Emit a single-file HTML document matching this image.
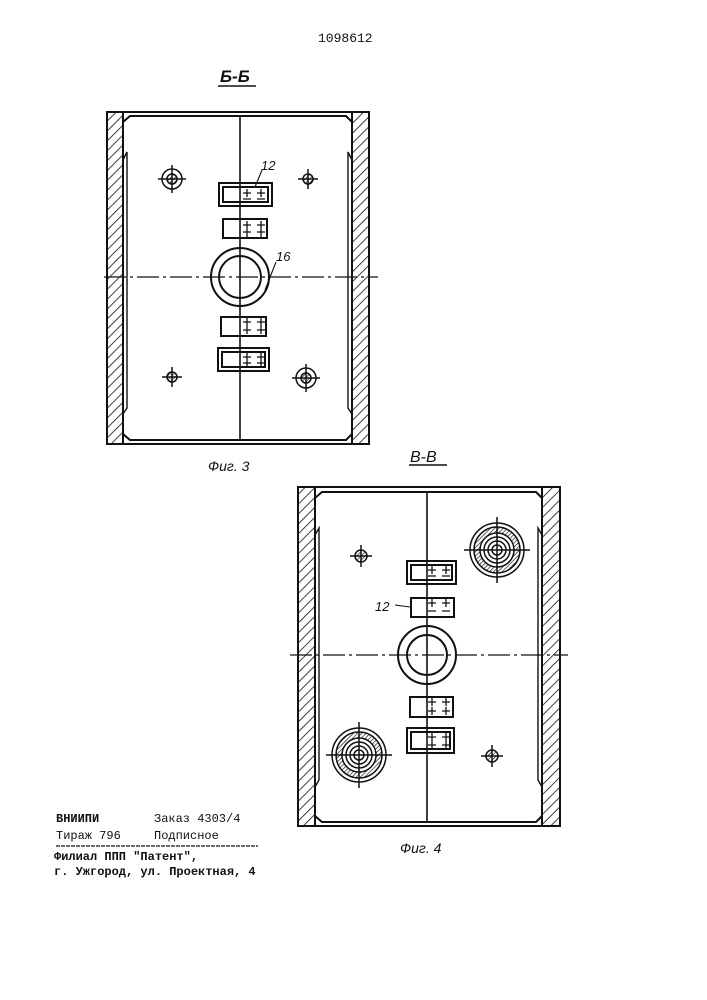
<!DOCTYPE html>
<html><head><meta charset="utf-8"><style>
body{margin:0;background:#fff;}
svg{display:block}
text{font-family:"Liberation Mono",monospace;fill:#111}
.it{font-family:"Liberation Sans",sans-serif;font-style:italic}
</style></head><body>
<svg width="707" height="1000" viewBox="0 0 707 1000" xmlns="http://www.w3.org/2000/svg">
<defs>
<pattern id="h" width="7" height="7" patternUnits="userSpaceOnUse" patternTransform="rotate(45)">
<rect width="7" height="7" fill="#fff"/><line x1="0" y1="0" x2="0" y2="7" stroke="#111" stroke-width="1.6"/></pattern>
<pattern id="h2" width="3" height="3" patternUnits="userSpaceOnUse" patternTransform="rotate(45)">
<line x1="0" y1="0" x2="0" y2="3" stroke="#111" stroke-width="1.3"/></pattern>
</defs>
<g stroke="#111" fill="none" stroke-width="2">
<text x="318" y="42" font-size="13" stroke="none">1098612</text>
<text x="220" y="82" font-size="17" class="it" stroke="none" font-weight="bold">Б-Б</text>
<line x1="218" y1="86" x2="256" y2="86" stroke-width="1.4"/>

<!-- Fig 3 -->
<rect x="107" y="112" width="16" height="332" fill="url(#h)"/>
<rect x="352" y="112" width="17" height="332" fill="url(#h)"/>
<line x1="107" y1="112" x2="369" y2="112"/>
<line x1="107" y1="444" x2="369" y2="444"/>
<path d="M123 122 L130 116 H346 L352 122"/>
<path d="M123 434 L130 440 H346 L352 434"/>
<path d="M123 160 L127 152 V408 L123 414" stroke-width="1.4"/>
<path d="M352 160 L348 152 V408 L352 414" stroke-width="1.4"/>
<line x1="240" y1="116" x2="240" y2="440" stroke-width="1.6"/>
<line x1="104" y1="277" x2="378" y2="277" stroke-width="1.3" stroke-dasharray="22 4 3 4"/>
<circle cx="240" cy="277" r="29"/><circle cx="240" cy="277" r="21"/>
<rect x="219" y="183" width="53" height="23"/><rect x="223" y="187" width="45" height="15"/>
<rect x="223" y="219" width="44" height="19"/>
<rect x="221" y="317" width="45" height="19"/>
<rect x="218" y="348" width="51" height="23"/><rect x="222" y="352" width="43" height="15"/>
<g stroke-width="1.3">
<path d="M243 193h8M247 189v8M257 193h8M261 189v8M243 199h8M257 199h8"/>
<path d="M243 225h8M247 221v8M257 225h8M261 221v8M243 232h8M247 229v8M257 232h8M261 229v8"/>
<path d="M243 322h8M247 318v8M257 322h8M261 318v8M243 330h8M247 326v8M257 330h8M261 326v8"/>
<path d="M243 357h8M247 353v8M257 357h8M261 353v8M243 363h8M247 359v8M257 363h8M261 359v8"/>
</g>
<path d="M255 187 L262 170" stroke-width="1.1"/>
<text x="261" y="170" font-size="13" class="it" stroke="none">12</text>
<path d="M265 290 L276 262" stroke-width="1.1"/>
<text x="276" y="261" font-size="13" class="it" stroke="none">16</text>
<g stroke-width="1.5">
<circle cx="172" cy="179" r="10"/><circle cx="172" cy="179" r="5" fill="url(#h2)"/><path d="M158 179h28M172 165v28"/>
<circle cx="308" cy="179" r="5" fill="url(#h2)"/><path d="M298 179h20M308 169v20"/>
<circle cx="172" cy="377" r="5" fill="url(#h2)"/><path d="M162 377h20M172 367v20"/>
<circle cx="306" cy="378" r="10"/><circle cx="306" cy="378" r="5" fill="url(#h2)"/><path d="M292 378h28M306 364v28"/>
</g>
<text x="208" y="471" font-size="14" class="it" stroke="none">Фиг. 3</text>

<!-- Fig 4 -->
<text x="410" y="462" font-size="16" class="it" stroke="none">В-В</text>
<line x1="409" y1="465" x2="447" y2="465" stroke-width="1.4"/>
<rect x="298" y="487" width="17" height="339" fill="url(#h)"/>
<rect x="542" y="487" width="18" height="339" fill="url(#h)"/>
<line x1="298" y1="487" x2="560" y2="487"/>
<line x1="298" y1="826" x2="560" y2="826"/>
<path d="M315 498 L322 492 H536 L542 498"/>
<path d="M315 816 L322 822 H536 L542 816"/>
<path d="M315 535 L319 528 V780 L315 787" stroke-width="1.4"/>
<path d="M542 535 L538 528 V780 L542 787" stroke-width="1.4"/>
<line x1="427" y1="492" x2="427" y2="822" stroke-width="1.6"/>
<line x1="290" y1="655" x2="568" y2="655" stroke-width="1.3" stroke-dasharray="22 4 3 4"/>
<circle cx="427" cy="655" r="29"/><circle cx="427" cy="655" r="20"/>
<rect x="407" y="561" width="49" height="23"/><rect x="411" y="565" width="41" height="15"/>
<rect x="411" y="598" width="43" height="19"/>
<rect x="410" y="697" width="43" height="20"/>
<rect x="407" y="728" width="47" height="25"/><rect x="411" y="732" width="39" height="17"/>
<g stroke-width="1.3">
<path d="M428 570h8M432 566v8M442 570h8M446 566v8M428 576h8M442 576h8"/>
<path d="M428 603h8M432 599v8M442 603h8M446 599v8M428 611h8M442 611h8"/>
<path d="M428 702h8M432 698v8M442 702h8M446 698v8M428 711h8M432 707v8M442 711h8M446 707v8"/>
<path d="M428 737h8M432 733v8M442 737h8M446 733v8M428 745h8M432 741v8M442 745h8M446 741v8"/>
</g>
<path d="M395 605 L410 607" stroke-width="1.1"/>
<text x="375" y="611" font-size="13" class="it" stroke="none">12</text>
<g stroke-width="1.5">
<circle cx="361" cy="556" r="6" fill="url(#h2)"/><path d="M350 556h22M361 545v22"/>
<circle cx="492" cy="756" r="6" fill="url(#h2)"/><path d="M481 756h22M492 745v22"/>
<circle cx="497" cy="550" r="27"/><circle cx="497" cy="550" r="23" fill="url(#h2)"/><circle cx="497" cy="550" r="17" fill="#fff"/><circle cx="497" cy="550" r="13"/><circle cx="497" cy="550" r="9"/><circle cx="497" cy="550" r="5"/><path d="M464 550h66M497 517v66"/>
<circle cx="359" cy="755" r="27"/><circle cx="359" cy="755" r="23" fill="url(#h2)"/><circle cx="359" cy="755" r="17" fill="#fff"/><circle cx="359" cy="755" r="13"/><circle cx="359" cy="755" r="9"/><circle cx="359" cy="755" r="5"/><path d="M326 755h66M359 722v66"/>
</g>
<text x="400" y="853" font-size="14" class="it" stroke="none">Фиг. 4</text>

<!-- footer -->
<text x="56" y="822" font-size="12" font-weight="bold" stroke="none">ВНИИПИ</text>
<text x="154" y="822" font-size="12" stroke="none">Заказ 4303/4</text>
<text x="56" y="839" font-size="12" stroke="none">Тираж 796</text>
<text x="154" y="839" font-size="12" stroke="none">Подписное</text>
<line x1="56" y1="846" x2="258" y2="846" stroke-width="1.3" stroke-dasharray="4 1"/>
<text x="54" y="860" font-size="12" font-weight="bold" stroke="none">Филиал ППП "Патент",</text>
<text x="54" y="875" font-size="12" font-weight="bold" stroke="none">г. Ужгород, ул. Проектная, 4</text>
</g>
</svg>
</body></html>
